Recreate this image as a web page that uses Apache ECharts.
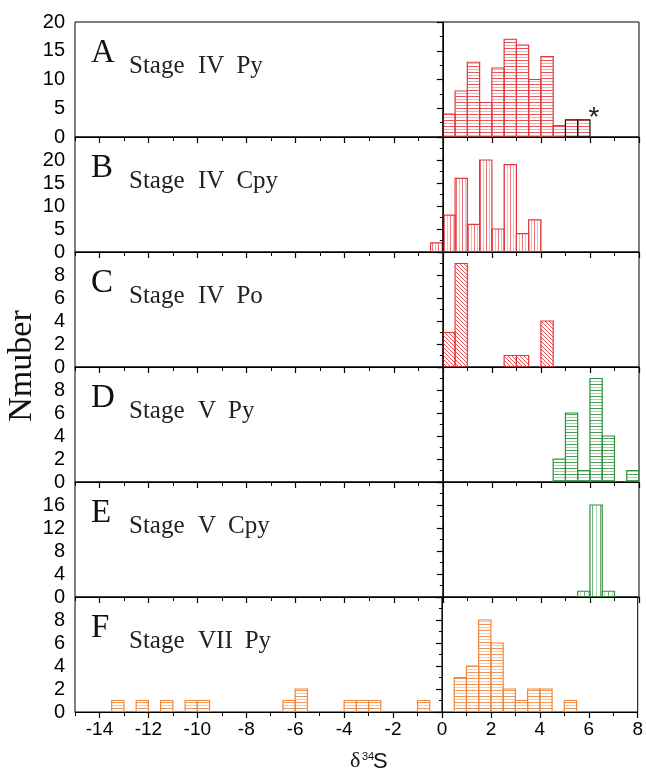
<!DOCTYPE html>
<html><head><meta charset="utf-8">
<script src="https://cdn.jsdelivr.net/npm/echarts@6/dist/echarts.min.js"></script>
<style>html,body{margin:0;padding:0;background:#fff}#c{width:646px;height:772px}</style>
</head><body><div id="c"></div>
<script>
// ---------------- data ----------------
const panelLetters = ['A', 'B', 'C', 'D', 'E', 'F'];
const stageWords = [
  ['Stage', 'IV', 'Py'],
  ['Stage', 'IV', 'Cpy'],
  ['Stage', 'IV', 'Po'],
  ['Stage', 'V', 'Py'],
  ['Stage', 'V', 'Cpy'],
  ['Stage', 'VII', 'Py']
];
const binWidth = 0.5;

const aStarts = [0, 0.5, 1, 1.5, 2, 2.5, 3, 3.5, 4, 4.5];
const aCounts = [4, 8, 13, 6, 12, 17, 16, 10, 14, 2];
const aMarkedStarts = [5, 5.5];      // bins outlined in black, flagged with *
const aMarkedCounts = [3, 3];

const bStarts = [-0.5, 0, 0.5, 1, 1.5, 2, 2.5, 3, 3.5];
const bCounts = [2, 8, 16, 6, 20, 5, 19, 4, 7];

const cStarts = [0, 0.5, 2.5, 3, 4];
const cCounts = [3, 9, 1, 1, 4];

const dStarts = [4.5, 5, 5.5, 6, 6.5, 7.5];
const dCounts = [2, 6, 1, 9, 4, 1];

const eStarts = [5.5, 6, 6.5];
const eCounts = [1, 16, 1];

const fStarts = [-13.5, -12.5, -11.5, -10.5, -10, -6.5, -6, -4, -3.5, -3, -1, 0.5, 1, 1.5, 2, 2.5, 3, 3.5, 4, 5];
const fCounts = [1, 1, 1, 1, 1, 1, 2, 1, 1, 1, 1, 3, 4, 8, 6, 2, 1, 2, 2, 1];

const xMin = -15, xMax = 8;
const zeroLineX = 0;
const xMajorTicks = [-14, -12, -10, -8, -6, -4, -2, 0, 2, 4, 6, 8];
const xMinorTicks = [-15, -13, -11, -9, -7, -5, -3, -1, 1, 3, 5, 7];
const yMax = [20, 25, 10, 10, 20, 10];
const yStep = [5, 5, 2, 2, 4, 2];
const yTitle = 'Nmuber';

// ---------------- styling ----------------
const RED = '#e4383c', GREEN = '#2e8f3a', ORANGE = '#f0843a';
function rgba(hex, a) {
  const n = parseInt(hex.slice(1), 16);
  return `rgba(${(n >> 16) & 255},${(n >> 8) & 255},${n & 255},${a})`;
}
function makePattern(kind, color, s) {
  const cv = document.createElement('canvas');
  const ctx = cv.getContext('2d');
  if (kind === 'h') {
    cv.width = 4; cv.height = s * 2;
    ctx.fillStyle = rgba(color, 0.85); ctx.fillRect(0, 0, 4, 1);
    ctx.fillStyle = rgba(color, 0.4); ctx.fillRect(0, s, 4, 1);
  } else if (kind === 'v') {
    cv.width = s * 2; cv.height = 4;
    ctx.fillStyle = rgba(color, 0.7); ctx.fillRect(0, 0, 1, 4);
    ctx.fillStyle = rgba(color, 0.35); ctx.fillRect(s, 0, 1, 4);
  } else {
    cv.width = s; cv.height = s;
    ctx.strokeStyle = rgba(color, 0.85); ctx.lineWidth = 1;
    ctx.beginPath();
    ctx.moveTo(-1, -1); ctx.lineTo(s + 1, s + 1);
    ctx.moveTo(-1, s - 1); ctx.lineTo(1, s + 1);
    ctx.moveTo(s - 1, -1); ctx.lineTo(s + 1, 1);
    ctx.stroke();
  }
  return { image: cv, repeat: 'repeat' };
}

const panels = [
  { starts: aStarts, counts: aCounts, color: RED, fill: makePattern('h', RED, 3) },
  { starts: bStarts, counts: bCounts, color: RED, fill: makePattern('v', RED, 3) },
  { starts: cStarts, counts: cCounts, color: RED, fill: makePattern('d', RED, 4) },
  { starts: dStarts, counts: dCounts, color: GREEN, fill: makePattern('h', GREEN, 3) },
  { starts: eStarts, counts: eCounts, color: GREEN, fill: makePattern('v', GREEN, 4) },
  { starts: fStarts, counts: fCounts, color: ORANGE, fill: makePattern('h', ORANGE, 3) }
];

const LEFT = 75, RIGHT = 7, TOP = 22, PH = 115;
const axisFont = 'Liberation Sans';

const grids = [], xAxes = [], xMinorAxes = [], yAxes = [], series = [], graphics = [];

function histRender(fill, stroke, star) {
  return function (params, api) {
    const x0 = api.value(0), x1 = api.value(1), c = api.value(2);
    const p0 = api.coord([x0, c]);
    const p1 = api.coord([x1, 0]);
    const children = [{
      type: 'rect',
      shape: { x: p0[0], y: p0[1], width: p1[0] - p0[0], height: p1[1] - p0[1] },
      style: { fill: fill, stroke: stroke, lineWidth: 1.2 }
    }];
    if (star && params.dataIndex === params.dataInsideLength - 1) {
      children.push({
        type: 'text', x: p1[0] + 4, y: p0[1] - 1,
        style: { text: '*', font: '28px "Liberation Sans"', fill: '#222', align: 'center', verticalAlign: 'middle' }
      });
    }
    return { type: 'group', children: children };
  };
}

const measureCtx = document.createElement('canvas').getContext('2d');
measureCtx.font = '25px "Liberation Serif"';

panels.forEach((p, i) => {
  const top = TOP + i * PH;
  const last = i === panels.length - 1;
  grids.push({ left: LEFT, right: RIGHT, top: top, height: PH, show: true, borderColor: '#000', borderWidth: 1, backgroundColor: 'transparent' });
  xAxes.push({
    type: 'value', gridIndex: i, min: xMin, max: xMax, interval: 1, position: 'bottom',
    axisLine: { show: true, onZero: false, lineStyle: { color: '#000', width: 1 } },
    axisTick: { show: true, inside: false, length: 6, customValues: xMajorTicks, lineStyle: { color: '#000', width: 1.2 } },
    axisLabel: { show: last, customValues: xMajorTicks, color: '#000', fontFamily: axisFont, fontSize: 19, margin: 8 },
    splitLine: { show: false }
  });
  xMinorAxes.push({
    type: 'value', gridIndex: i, min: xMin, max: xMax, interval: 1, position: 'bottom',
    axisLine: { show: false, onZero: false },
    axisTick: { show: true, inside: false, length: 4, customValues: xMinorTicks, lineStyle: { color: '#000', width: 1 } },
    axisLabel: { show: false },
    splitLine: { show: false }
  });
  yAxes.push({
    type: 'value', gridIndex: i, min: 0, max: yMax[i], interval: yStep[i],
    axisLine: { show: true, lineStyle: { color: '#000', width: 1 } },
    axisTick: { show: true, inside: false, length: 6, lineStyle: { color: '#000', width: 1.2 } },
    minorTick: { show: true, splitNumber: 2, length: 3, lineStyle: { color: '#000', width: 1 } },
    axisLabel: { color: '#000', fontFamily: axisFont, fontSize: 20, margin: 10, showMaxLabel: i === 0, showMinLabel: true },
    splitLine: { show: false }
  });
  series.push({
    type: 'custom', xAxisIndex: i, yAxisIndex: i, silent: true, clip: true,
    data: p.starts.map((s, k) => [s, s + binWidth, p.counts[k]]),
    encode: { x: [0, 1], y: 2 },
    renderItem: histRender(p.fill, p.color, false)
  });
  // solid vertical reference line at delta34S = 0, drawn through the axis scale
  series.push({
    type: 'custom', xAxisIndex: i, yAxisIndex: i, silent: true, clip: true, z: 4,
    data: [[zeroLineX, 0, yMax[i]]],
    encode: { x: 0, y: [1, 2] },
    renderItem: function (params, api) {
      const a = api.coord([api.value(0), api.value(1)]);
      const b = api.coord([api.value(0), api.value(2)]);
      return { type: 'line', shape: { x1: a[0], y1: a[1], x2: b[0], y2: b[1] }, style: { stroke: '#111', lineWidth: 1.2 } };
    }
  });
  // panel letter and stage text
  graphics.push({
    type: 'text', left: 91, top: top + 32 - 17,
    style: { text: panelLetters[i], font: '33px "Liberation Serif"', fill: '#111' }
  });
  const w = stageWords[i];
  const numX = 198;
  const thirdX = numX + measureCtx.measureText(w[1]).width + 12;
  [[w[0], 129], [w[1], numX], [w[2], thirdX]].forEach(([t, x]) => {
    graphics.push({
      type: 'text', x: x, y: top + 44,
      style: { text: t, font: '25px "Liberation Serif"', fill: '#222', verticalAlign: 'middle', align: 'left' }
    });
  });
});

// black-outlined bins with asterisk in panel A
series.push({
  type: 'custom', xAxisIndex: 0, yAxisIndex: 0, silent: true, clip: false, z: 3,
  data: aMarkedStarts.map((s, k) => [s, s + binWidth, aMarkedCounts[k]]),
  encode: { x: [0, 1], y: 2 },
  renderItem: histRender(panels[0].fill, '#111', true)
});

// axis titles
graphics.push({
  type: 'text', x: 22, y: 366, rotation: Math.PI / 2,
  style: { text: yTitle, font: '34px "Liberation Serif"', fill: '#111', align: 'center', verticalAlign: 'middle' }
});
graphics.push({ type: 'text', x: 350, y: 761, style: { text: 'δ', font: '22px "Liberation Serif"', fill: '#111', verticalAlign: 'middle' } });
graphics.push({ type: 'text', x: 362, y: 757, style: { text: '34', font: '11px "Liberation Sans"', fill: '#111', verticalAlign: 'middle' } });
graphics.push({ type: 'text', x: 373, y: 762, style: { text: 'S', font: '22px "Liberation Sans"', fill: '#111', verticalAlign: 'middle' } });

const chart = echarts.init(document.getElementById('c'), null, { renderer: 'canvas' });
chart.setOption({
  animation: false,
  backgroundColor: '#fff',
  grid: grids,
  xAxis: xAxes.concat(xMinorAxes),
  yAxis: yAxes,
  series: series,
  graphic: graphics
});
</script>
</body></html>
